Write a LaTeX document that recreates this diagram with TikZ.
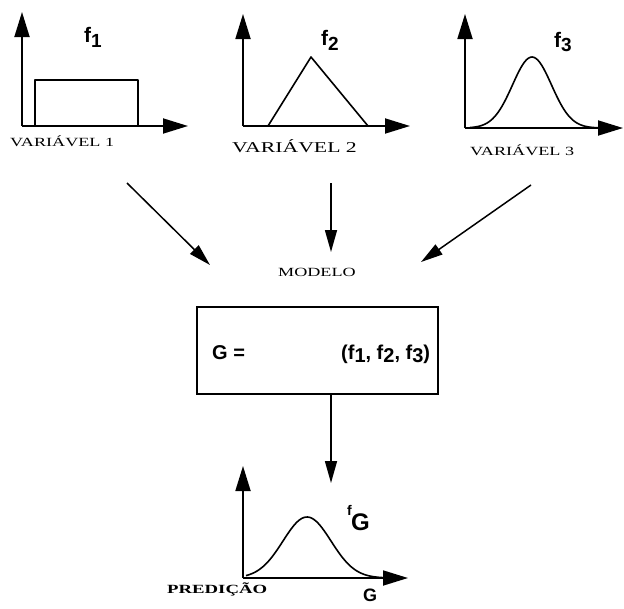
\documentclass[tikz,border=0pt]{standalone}
\usepackage{fontspec}
\usetikzlibrary{arrows.meta}
\newfontfamily\helv{Liberation Sans}
\newfontfamily\tms{Liberation Serif}
\newcommand{\widetxt}[2]{{\tms\fontsize{#1}{#1}\selectfont\scalebox{1.45}[1]{#2}}}
\tikzset{
  axisline/.style={line width=1.8pt, -{Triangle[length=25pt,width=15pt]}},
  curveline/.style={line width=1.6pt, line join=round},
  conn/.style={line width=1.5pt, -{Triangle[length=22pt,width=12pt]}},
  lab/.style={inner sep=0pt, anchor=base west},
  flab/.style={inner sep=0pt, anchor=base west, font=\helv\bfseries},
  modelbox/.style={draw, line width=1.8pt, minimum width=241pt, minimum height=87pt, inner sep=0pt}
}
\begin{document}
\begin{tikzpicture}[x=1pt,y=-1pt]
\useasboundingbox (0,0) rectangle (624,608);
% chart 1
\coordinate (o1) at (22,126);
\coordinate (t1y) at (22,12);
\coordinate (t1x) at (188,126);
\draw[axisline] (o1) -- (t1y);
\draw[axisline] (o1) -- (t1x);
\draw[curveline] (35,126) -- (35,80) -- (138,80) -- (138,126);
\node[flab] (f1) at (84,42) {\fontsize{21}{21}\selectfont f\raisebox{-5pt}{\fontsize{19}{19}\selectfont 1}};
\node[lab] (v1) at (10,146) {\widetxt{12.5}{VARIÁVEL 1}};
% chart 2
\coordinate (o2) at (243,126);
\coordinate (t2y) at (243,14);
\coordinate (t2x) at (410,126);
\draw[axisline] (o2) -- (t2y);
\draw[axisline] (o2) -- (t2x);
\draw[curveline] (268,126) -- (311,57) -- (368,126);
\node[flab] (f2) at (321,45) {\fontsize{21}{21}\selectfont f\raisebox{-5pt}{\fontsize{19}{19}\selectfont 2}};
\node[lab] (v2) at (232,152) {\widetxt{15}{VARIÁVEL 2}};
% chart 3
\coordinate (o3) at (465,128);
\coordinate (t3y) at (465,14);
\coordinate (t3x) at (623,128);
\draw[axisline] (o3) -- (t3y);
\draw[axisline] (o3) -- (t3x);
\draw[curveline] plot[smooth, domain=470:600, samples=70] (\x,{128-71*exp(-((\x-532)/19.5)^2/2)});
\node[flab] (f3) at (554,47) {\fontsize{21}{21}\selectfont f\raisebox{-4pt}{\fontsize{19}{19}\selectfont 3}};
\node[lab] (v3) at (470,155) {\widetxt{12.5}{VARIÁVEL 3}};
% connectors to model
\coordinate (a1s) at (127,183);
\coordinate (a1e) at (210,265);
\coordinate (a2s) at (331,183);
\coordinate (a2e) at (331,252);
\coordinate (a3s) at (531,185);
\coordinate (a3e) at (421,262);
\draw[conn] (a1s) -- (a1e);
\draw[conn] (a2s) -- (a2e);
\draw[conn] (a3s) -- (a3e);
\node[lab] (modelo) at (278,276) {\widetxt{12.5}{MODELO}};
% box
\node[modelbox] (box) at (317.5,350.5) {};
\node[flab] (geq) at (212,359) {\fontsize{20}{20}\selectfont G =};
\node[flab] (gargs) at (341,359) {\fontsize{20}{20}\selectfont (f\raisebox{-3pt}{1}, f\raisebox{-3pt}{2}, f\raisebox{-3pt}{3})};
% arrow to prediction
\coordinate (bm) at (331,394);
\coordinate (pe) at (331,483);
\draw[conn] (box.south -| bm) -- (pe);
% prediction chart
\coordinate (og) at (243,578);
\coordinate (tgy) at (243,466);
\coordinate (tgx) at (408,578);
\draw[axisline] (og) -- (tgy);
\draw[axisline] (og) -- (tgx);
\draw[curveline] plot[smooth, domain=246:388, samples=70] (\x,{578-61*exp(-((\x-307)/24)^2/2)});
\node[flab] (fgf) at (347,515) {\fontsize{14}{14}\selectfont f};
\node[flab] (fgg) at (351,530) {\fontsize{24}{24}\selectfont G};
\node[lab] (pred) at (167,593) {{\tms\bfseries\fontsize{12.5}{12.5}\selectfont\scalebox{1.5}[1]{PREDIÇÃO}}};
\node[flab] (gax) at (363,601) {\fontsize{18}{18}\selectfont G};
\end{tikzpicture}
\end{document}
